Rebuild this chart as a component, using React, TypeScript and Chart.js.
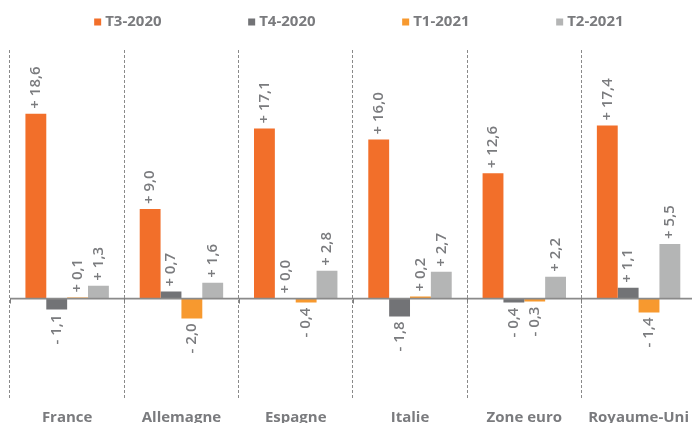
import React, { useEffect, useRef } from 'react';
import { Chart, registerables } from 'chart.js';

Chart.register(...registerables);

const categories = ['France', 'Allemagne', 'Espagne', 'Italie', 'Zone euro', 'Royaume-Uni'];
const seriesLabels = ['T3-2020', 'T4-2020', 'T1-2021', 'T2-2021'];
const seriesColors = ['#F26F2A', '#727376', '#F7992F', '#B4B5B5'];
const t3_2020 = [18.6, 9.0, 17.1, 16.0, 12.6, 17.4];
const t4_2020 = [-1.1, 0.7, 0.0, -1.8, -0.4, 1.1];
const t1_2021 = [0.1, -2.0, -0.4, 0.2, -0.3, -1.4];
const t2_2021 = [1.3, 1.6, 2.8, 2.7, 2.2, 5.5];
const seriesValues = [t3_2020, t4_2020, t1_2021, t2_2021];

const TEXT_GREY = '#7A7B7E';
const FONT = '"Open Sans", "DejaVu Sans", sans-serif';

const fmt = (v: number) => (v >= 0 ? '+ ' : '- ') + Math.abs(v).toFixed(1).replace('.', ',');

const extrasPlugin = {
  id: 'extras',
  afterDatasetsDraw(chart: any) {
    const ctx = chart.ctx;
    const area = chart.chartArea;
    const xs = chart.scales.x;
    const ys = chart.scales.y;
    const zero = ys.getPixelForValue(0);
    ctx.save();
    // zero line
    ctx.strokeStyle = '#8A8A8A';
    ctx.lineWidth = 1.8;
    ctx.beginPath();
    ctx.moveTo(area.left, zero);
    ctx.lineTo(area.right, zero);
    ctx.stroke();
    // tick marks at category boundaries
    const n = chart.data.labels.length;
    const step = xs.width / n;
    ctx.lineWidth = 1;
    ctx.strokeStyle = '#7F7F7F';
    for (let i = 0; i <= n; i++) {
      const x = Math.round(xs.getPixelForValue(0) - step / 2 + i * step) + 0.5;
      ctx.beginPath();
      ctx.moveTo(x, zero);
      ctx.lineTo(x, zero + 5);
      ctx.stroke();
    }
    // data labels
    ctx.fillStyle = TEXT_GREY;
    ctx.font = `600 15px ${FONT}`;
    ctx.textBaseline = 'middle';
    chart.data.datasets.forEach((ds: any, di: number) => {
      const meta = chart.getDatasetMeta(di);
      meta.data.forEach((bar: any, i: number) => {
        const v = ds.data[i];
        const txt = fmt(v);
        ctx.save();
        if (v >= 0) {
          ctx.translate(bar.x, bar.y - 5);
          ctx.rotate(-Math.PI / 2);
          ctx.textAlign = 'left';
        } else {
          ctx.translate(bar.x, bar.y + 5);
          ctx.rotate(-Math.PI / 2);
          ctx.textAlign = 'right';
        }
        ctx.fillText(txt, 0, 0);
        ctx.restore();
      });
    });
    ctx.restore();
  },
  afterDraw(chart: any) {
    const ctx = chart.ctx;
    const area = chart.chartArea;
    const ds = chart.data.datasets;
    ctx.save();
    ctx.font = `bold 15px ${FONT}`;
    ctx.textBaseline = 'middle';
    ctx.textAlign = 'left';
    const box = 7;
    const gap = 4;
    const stride = 154;
    const lastW = ctx.measureText(ds[ds.length - 1].label).width;
    const total = stride * (ds.length - 1) + box + gap + lastW;
    const x0 = (area.left + area.right) / 2 - total / 2 + 6;
    const yc = 22;
    ds.forEach((d: any, i: number) => {
      const x = x0 + i * stride;
      ctx.fillStyle = d.backgroundColor;
      ctx.fillRect(x, yc - box / 2, box, box);
      ctx.fillStyle = TEXT_GREY;
      ctx.fillText(d.label, x + box + gap, yc);
    });
    ctx.restore();
  },
};

export default function App() {
  const canvasRef = useRef<HTMLCanvasElement | null>(null);

  useEffect(() => {
    if (!canvasRef.current) return;
    const chart = new Chart(canvasRef.current, {
      type: 'bar',
      data: {
        labels: categories,
        datasets: seriesLabels.map((label, i) => ({
          label,
          data: seriesValues[i],
          backgroundColor: seriesColors[i],
          borderWidth: 0,
          categoryPercentage: 0.73,
          barPercentage: 1,
        })),
      },
      options: {
        responsive: true,
        maintainAspectRatio: false,
        animation: false,
        layout: { padding: { top: 50, left: 10, right: 0, bottom: 0 } },
        plugins: {
          legend: { display: false },
          tooltip: { enabled: false },
        },
        scales: {
          x: {
            grid: {
              display: true,
              color: '#8A8A8A',
              lineWidth: 1,
              drawTicks: false,
              offset: true,
            },
            border: { display: false, dash: [3, 2] },
            ticks: {
              color: TEXT_GREY,
              font: { family: FONT, size: 15, weight: 'bold' },
              padding: 11,
              maxRotation: 0,
              autoSkip: false,
            },
          },
          y: {
            display: false,
            min: -10,
            max: 25,
          },
        },
      },
      plugins: [extrasPlugin],
    } as any);
    return () => chart.destroy();
  }, []);

  return (
    <div style={{ position: 'fixed', left: 0, top: 0, width: 692, height: 423, overflow: 'hidden', background: '#fff' }}>
      <div style={{ position: 'relative', width: 700, height: 438 }}>
        <canvas ref={canvasRef} />
      </div>
    </div>
  );
}
